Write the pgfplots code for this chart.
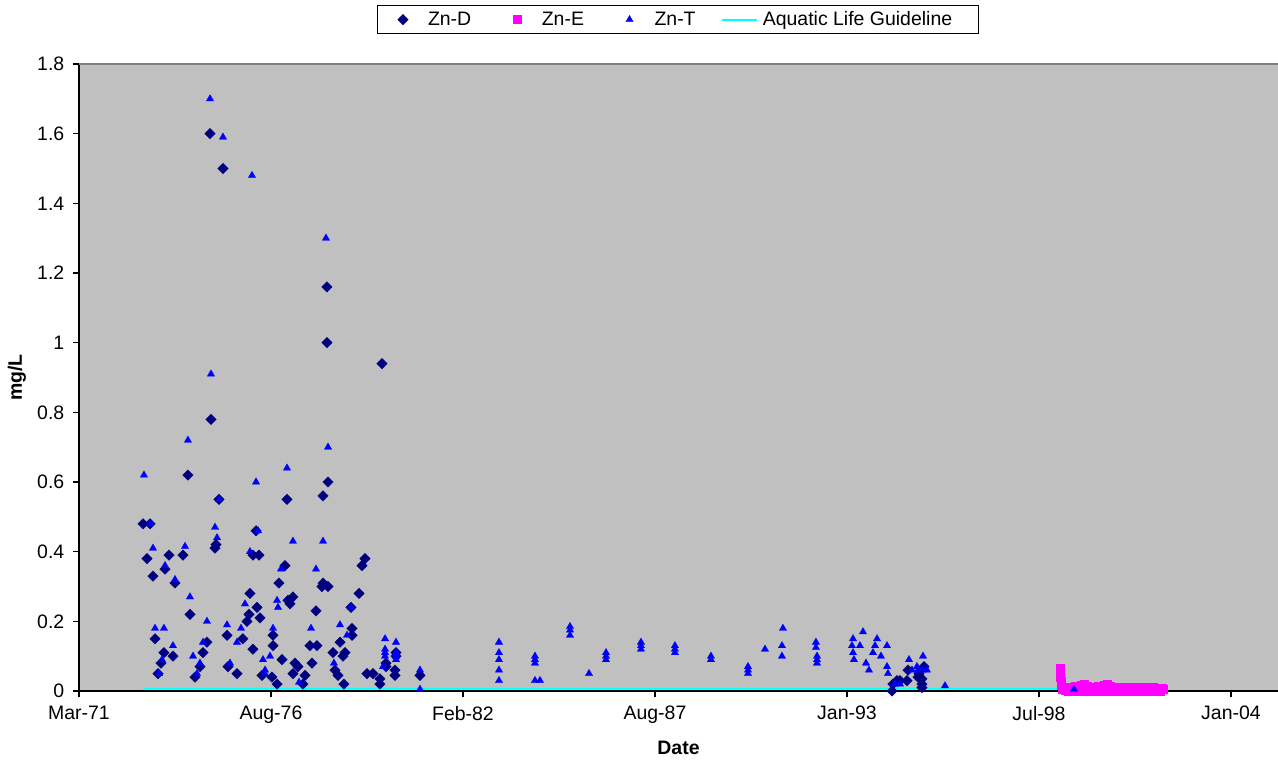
\documentclass[border=0pt]{standalone}
\usepackage{fontspec}
\setmainfont{Liberation Sans}
\usepackage{pgfplots}
\usepackage{pgfplotstable}
\pgfplotsset{compat=1.18}
\definecolor{znd}{RGB}{0,0,128}
\definecolor{znt}{RGB}{0,0,255}
\definecolor{zne}{RGB}{255,0,255}
\definecolor{guide}{RGB}{0,255,255}
\definecolor{plotbg}{RGB}{192,192,192}
\definecolor{bordergray}{RGB}{128,128,128}
\pgfplotsset{
  markleg/.style={legend image code/.code={\path[draw=none,fill=none] (0pt,0pt) -- (31.5pt,0pt); \draw[##1, only marks] plot coordinates {(15.75pt,0pt)};}},
  lineleg/.style={legend image code/.code={\path[draw=none,fill=none] (0pt,0pt) -- (29pt,0pt); \draw[##1, line width=1.5pt] (1.2pt,0pt) -- (27.5pt,0pt);}},
}
% x = days since 1 Mar 1971
\pgfplotstableread{
x y
1365 1.60
1500 1.50
2583 1.16
2583 1.00
3156 0.94
1375 0.78
1135 0.62
1458 0.55
2167 0.55
2542 0.56
2594 0.60
667 0.48
740 0.48
1844 0.46
708 0.38
938 0.39
1083 0.39
1417 0.41
1427 0.42
1812 0.39
1875 0.39
896 0.35
771 0.33
1000 0.31
2146 0.36
2083 0.31
1781 0.28
1854 0.24
1771 0.22
1750 0.20
1885 0.21
2198 0.25
2229 0.27
2177 0.26
2469 0.23
2531 0.30
2542 0.31
2594 0.30
1156 0.22
792 0.15
885 0.11
979 0.10
854 0.08
823 0.05
1208 0.04
1260 0.07
1333 0.14
1292 0.11
1542 0.16
1552 0.07
1646 0.05
1708 0.15
1812 0.12
1906 0.045
2010 0.04
2063 0.02
2021 0.16
2021 0.13
2115 0.09
2250 0.08
2281 0.07
2229 0.05
2354 0.045
2333 0.02
2427 0.08
2406 0.13
2479 0.13
2844 0.18
2844 0.16
2719 0.14
2771 0.11
2750 0.10
2646 0.11
2833 0.24
2917 0.28
2948 0.36
2979 0.38
2667 0.06
2698 0.045
2760 0.02
3000 0.05
3063 0.05
3135 0.035
3135 0.02
3302 0.11
3302 0.10
3292 0.06
3292 0.045
3198 0.08
3198 0.07
3552 0.045
8469 0.00
8479 0.02
8521 0.03
8552 0.03
8625 0.03
8635 0.06
8740 0.04
8750 0.05
8781 0.035
8781 0.02
8781 0.01
8802 0.07
}\zndtable
\pgfplotstableread{
x y
10219 0.065
10219 0.052
10222 0.040
10228 0.028
10235 0.016
10245 0.006
10260 0.004
10290 0.006
10320 0.010
10350 0.012
10380 0.014
10410 0.012
10440 0.016
10470 0.020
10500 0.014
10530 0.008
10560 0.006
10590 0.010
10620 0.014
10650 0.012
10680 0.018
10710 0.020
10740 0.014
10770 0.010
10800 0.006
10830 0.008
10860 0.010
10890 0.006
10920 0.008
10950 0.012
10980 0.008
11010 0.010
11040 0.006
11070 0.008
11100 0.012
11130 0.008
11160 0.006
11190 0.010
11220 0.008
11250 0.006
11280 0.008
11292 0.004
10275 0.002
10305 0.001
10335 0.002
10365 0.001
10395 0.002
10425 0.001
10455 0.002
10485 0.003
10515 0.001
10545 0.002
10575 0.001
10605 0.002
10635 0.001
10665 0.003
10695 0.002
10725 0.001
10755 0.002
10785 0.001
10815 0.002
10845 0.001
10875 0.002
10905 0.001
10935 0.002
10965 0.001
10995 0.002
11025 0.001
11055 0.002
11085 0.001
11115 0.002
11145 0.001
11175 0.002
11205 0.001
11235 0.002
11265 0.001
}\znetable
\pgfplotstableread{
x y
1365 1.70
1500 1.59
1802 1.48
2573 1.30
1375 0.91
677 0.62
1135 0.72
2594 0.70
2167 0.64
1844 0.60
740 0.48
1417 0.47
1438 0.44
1458 0.55
1865 0.46
2229 0.43
2542 0.43
771 0.41
1104 0.415
1781 0.40
896 0.36
1000 0.32
2104 0.35
2469 0.35
1156 0.27
1729 0.25
2063 0.26
2073 0.24
1333 0.20
1542 0.19
1688 0.18
792 0.18
885 0.18
2417 0.18
2021 0.18
979 0.13
1292 0.14
1646 0.14
1188 0.10
865 0.09
1260 0.08
1573 0.08
1917 0.09
1990 0.10
1938 0.06
1938 0.05
833 0.05
1229 0.05
2292 0.025
2719 0.19
2792 0.16
2833 0.24
2656 0.08
3188 0.15
3302 0.14
3188 0.12
3188 0.11
3188 0.10
3302 0.11
3302 0.10
3302 0.09
3167 0.07
3552 0.06
3552 0.005
4375 0.14
4375 0.11
4375 0.09
4375 0.06
4375 0.03
4750 0.10
4750 0.09
4750 0.08
4750 0.03
4802 0.03
5115 0.185
5115 0.175
5115 0.16
5313 0.05
5490 0.11
5490 0.10
5490 0.09
5854 0.14
5854 0.13
5854 0.12
6208 0.13
6208 0.12
6208 0.11
6583 0.10
6583 0.09
6969 0.07
6969 0.06
6969 0.05
7146 0.12
7333 0.18
7323 0.13
7323 0.10
7677 0.14
7677 0.125
7688 0.10
7688 0.09
7688 0.08
8167 0.17
8063 0.15
8052 0.13
8063 0.11
8073 0.09
8135 0.13
8313 0.15
8292 0.13
8271 0.11
8354 0.10
8198 0.08
8229 0.06
8417 0.13
8417 0.07
8427 0.05
8646 0.09
8792 0.10
8729 0.07
8792 0.06
8833 0.06
8677 0.06
8740 0.06
8500 0.02
8552 0.02
9021 0.015
10365 0.005
}\zntable
\begin{document}
\begin{tikzpicture}[font=\fontsize{14.6pt}{17pt}\selectfont]
\useasboundingbox (-59.25pt,-52.5pt) rectangle (899.25pt,518.25pt);
\begin{axis}[
  scale only axis, width=899.25pt, height=470.25pt,
  at={(0pt,0pt)}, anchor=south west,
  xmin=0, xmax=12490, ymin=0, ymax=1.8,
  clip=false,
  scaled x ticks=false, scaled y ticks=false,
  axis background/.style={fill=plotbg},
  axis x line*=bottom, axis y line*=left,
  axis line style={black, line width=1pt},
  tick align=outside, major tick length=4.5pt,
  tick style={black, line width=0.8pt},
  xtick={0,2000,4000,6000,8000,10000,12000},
  xticklabels={Mar-71,Aug-76,Feb-82,Aug-87,Jan-93,Jul-98,Jan-04},
  xticklabel style={yshift=-3.5pt},
  ytick={0,0.2,0.4,0.6,0.8,1,1.2,1.4,1.6,1.8},
  yticklabels={0,0.2,0.4,0.6,0.8,1,1.2,1.4,1.6,1.8},
  yticklabel style={xshift=-3pt},
  xlabel={\bfseries Date},
  ylabel={\bfseries mg/L},
  every axis x label/.style={at={(rel axis cs:0.5,0)}, yshift=-42.75pt, anchor=center},
  every axis y label/.style={at={(rel axis cs:0,0.5)}, xshift=-46.5pt, rotate=90, anchor=center},
  legend columns=4,
  legend cell align=left,
  legend style={at={(0.4994,1.0941)}, anchor=north, draw=black, line width=0.8pt, fill=white,
    inner xsep=3.45pt, inner ysep=2.5pt,
    nodes={inner xsep=3pt, inner ysep=2pt},
    /tikz/every even column/.append style={column sep=15.4pt}},
]
\addplot[only marks, mark=square*, mark size=2.8pt, color=znd,
  mark options={rotate=45, fill=znd, draw=znd, line width=0.2pt}, markleg]
  table[x=x,y=y] {\zndtable};
\addlegendentry{Zn-D}
\addplot[only marks, mark=square*, mark size=3pt, color=zne,
  mark options={fill=zne, draw=zne, line width=0.2pt}, markleg]
  table[x=x,y=y] {\znetable};
\addlegendentry{Zn-E}
\addplot[only marks, mark=triangle*, mark size=3.2pt, color=znt,
  mark options={fill=znt, draw=znt, line width=0.2pt}, markleg]
  table[x=x,y=y] {\zntable};
\addlegendentry{Zn-T}
\addplot[guide, line width=1.2pt, mark=none, lineleg]
  coordinates {(677,0.0075) (10250,0.0075)};
\addlegendentry{Aquatic Life Guideline\hspace*{13pt}\mbox{}}
\draw[bordergray, line width=1.2pt] (rel axis cs:0,1) -- (rel axis cs:1,1);
\end{axis}
\end{tikzpicture}
\end{document}
